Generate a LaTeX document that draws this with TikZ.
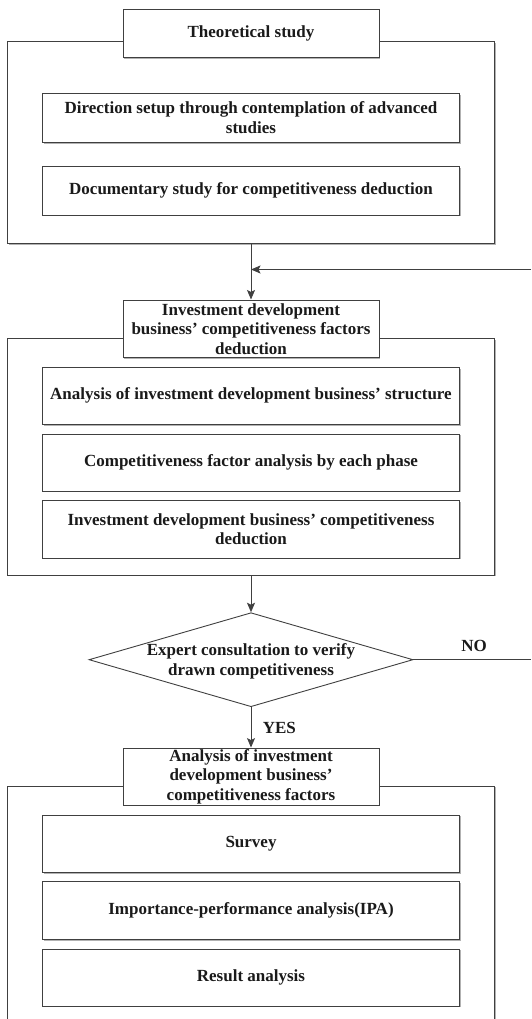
\documentclass[tikz,border=0pt]{standalone}
\usepackage{fontspec}
\setmainfont{Liberation Serif}
\usetikzlibrary{shapes.geometric,arrows.meta,shadows}
\definecolor{ln}{HTML}{404040}
\definecolor{tx}{HTML}{1A1A1A}
\tikzset{
  lbl/.style={font=\fontsize{17}{19.5}\selectfont\bfseries, text=tx, inner sep=0pt, align=center},
  shad/.style={drop shadow={shadow xshift=1.3pt, shadow yshift=-1.3pt, fill=black, opacity=0.3}},
  stepbox/.style={lbl, rectangle, draw=ln, line width=0.9pt, fill=white, shad},
  framebox/.style={rectangle, draw=ln, line width=0.9pt, fill=white, shad, inner sep=0pt},
  decision/.style={diamond, draw=ln, line width=0.9pt, fill=white, inner sep=0pt, aspect=3.45},
  conn/.style={draw=ln, line width=0.9pt},
  arr/.style={conn, -{Stealth[length=9.5pt, width=8pt, inset=2pt]}}
}
\begin{document}
\begin{tikzpicture}[x=1pt, y=-1pt]
\path[use as bounding box] (0,0) rectangle (531,1019);
\clip (0,0) rectangle (531,1019);

% ---- block 1
\node[framebox, minimum width=487pt, minimum height=201.6pt] (o1) at (251,142.5) {};
\node[stepbox, minimum width=256pt, minimum height=48.4pt] (t1) at (251,33.5) {Theoretical study};
\node[stepbox, minimum width=416.6pt, minimum height=49pt] (a1) at (251,117.8) {Direction setup through contemplation of advanced\\studies};
\node[stepbox, minimum width=416.6pt, minimum height=48.3pt] (a2) at (251,190.8) {Documentary study for competitiveness deduction};

% ---- block 2
\node[framebox, minimum width=487pt, minimum height=236.7pt] (o2) at (251,456.7) {};
\node[stepbox, minimum width=256pt, minimum height=57.7pt] (t2) at (251,328.8) {Investment development\\business’ competitiveness factors\\deduction};
\node[stepbox, minimum width=416.6pt, minimum height=57pt] (b1) at (251,395.8) {Analysis of investment development business’ structure};
\node[stepbox, minimum width=416.6pt, minimum height=57pt] (b2) at (251,462.5) {Competitiveness factor analysis by each phase};
\node[stepbox, minimum width=416.6pt, minimum height=57.3pt] (b3) at (251,529.3) {Investment development business’ competitiveness\\deduction};

% ---- decision
\node[decision, minimum width=324pt, minimum height=94pt] (d) at (251,659.7) {};
\node[lbl] (dt) at ([yshift=-1.5pt]d.center) {Expert consultation to verify\\drawn competitiveness};

% ---- block 3 (runs past the lower edge)
\node[framebox, minimum width=487pt, minimum height=260pt] (o3) at (251,916) {};
\node[stepbox, minimum width=256pt, minimum height=57pt] (t3) at (251,776.5) {Analysis of investment\\development business’\\competitiveness factors};
\node[stepbox, minimum width=416.6pt, minimum height=57.3pt] (c1) at (251,843.7) {Survey};
\node[stepbox, minimum width=416.6pt, minimum height=57.6pt] (c2) at (251,910.5) {Importance-performance analysis(IPA)};
\node[stepbox, minimum width=416.6pt, minimum height=57pt] (c3) at (251,977.5) {Result analysis};

% ---- connectors
\coordinate (fbr) at (531,269.5);
\coordinate (nor) at (531,659.7);
\draw[arr] (o1.south) -- (t2.north);
\draw[arr] (fbr) -- (fbr -| o1.south);
\draw[arr] (o2.south) -- (d.north);
\draw[conn] (d.east) -- (nor);
\draw[arr] (d.south) -- (t3.north);
\node[lbl] (no) at (474,646) {NO};
\node[lbl] (yes) at (279.4,728.3) {YES};
\end{tikzpicture}
\end{document}
